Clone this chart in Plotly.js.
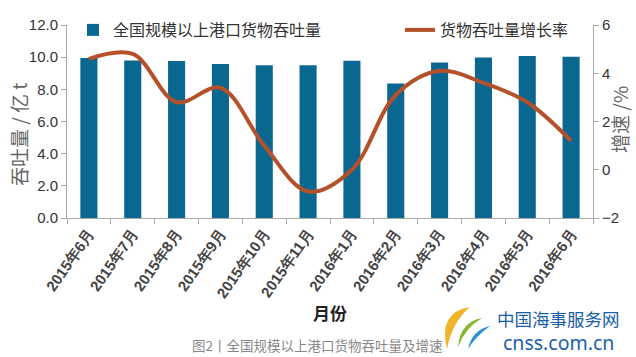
<!DOCTYPE html>
<html>
<head>
<meta charset="utf-8">
<script src="https://cdn.plot.ly/plotly-3.0.1.min.js"></script>
<style>html,body{margin:0;padding:0;background:#fff;}#chart{width:636px;height:357px;}</style>
</head>
<body>
<div id="chart"></div>
<script>
const months = ["2015年6月","2015年7月","2015年8月","2015年9月","2015年10月","2015年11月","2016年1月","2016年2月","2016年3月","2016年4月","2016年5月","2016年6月"];
const throughput = [9.95, 9.8, 9.76, 9.57, 9.5, 9.5, 9.77, 8.36, 9.67, 9.98, 10.07, 10.02];
const growth = [4.6, 4.8, 2.8, 3.4, 1.0, -0.9, 0.0, 3.1, 4.1, 3.6, 2.8, 1.2];
const barName = "全国规模以上港口货物吞吐量";
const lineName = "货物吞吐量增长率";

const W = 636, H = 357;
const M = {l: 67, r: 43, t: 25, b: 139};
const pw = W - M.l - M.r, ph = H - M.t - M.b;
function px(x){ return (x - M.l) / pw; }
function py(y){ return (H - M.b - y) / ph; }

const cjk = '"Noto Sans CJK SC", "Noto Sans", sans-serif';
const sans = '"Liberation Sans", Arial, sans-serif';

const traces = [
  {type:'bar', x: months, y: throughput, name: barName, marker:{color:'#0a6890'}, width:0.39, yaxis:'y', legend:'legend'},
  {type:'scatter', mode:'lines', x: months, y: growth, name: lineName, line:{color:'#b5512a', width:4, shape:'spline', smoothing:1}, yaxis:'y2', legend:'legend2'}
];

function logoPath(a){
  return 'M'+px(a[0][0])+','+py(a[0][1])+' Q'+px(a[1][0])+','+py(a[1][1])+' '+px(a[2][0])+','+py(a[2][1])+' Q'+px(a[3][0])+','+py(a[3][1])+' '+px(a[0][0])+','+py(a[0][1])+' Z';
}
function note(text, x, y, font, angle){
  return {text:text, xref:'paper', yref:'paper', x:px(x), y:py(y), xanchor:'center', yanchor:'middle',
    textangle:angle||0, showarrow:false, font:font};
}

const layout = {
  width: W, height: H,
  margin: M,
  paper_bgcolor:'#fff', plot_bgcolor:'#fff',
  showlegend: true,
  xaxis: {
    type:'category', tickson:'boundaries', ticks:'outside', ticklen:5, tickcolor:'#aaa',
    showline:true, linecolor:'#aaa', linewidth:1, showgrid:false,
    tickangle:-55, tickfont:{family:sans, size:15, color:'#444', weight:'bold'},
    title:{text:'月份', font:{family:cjk, size:17, color:'#222', weight:'bold'}, standoff:0}
  },
  yaxis: {
    range:[0,12], dtick:2, tickformat:'.1f', ticks:'outside', ticklen:5, tickcolor:'#aaa',
    showline:true, linecolor:'#aaa', showgrid:false, zeroline:false,
    tickfont:{family:sans, size:15, color:'#333'}
  },
  yaxis2: {
    range:[-2,6], dtick:2, overlaying:'y', side:'right', ticks:'outside', ticklen:5, tickcolor:'#aaa',
    showline:true, linecolor:'#aaa', showgrid:false, zeroline:false,
    tickfont:{family:sans, size:15, color:'#333'}
  },
  legend: {x:px(73), y:py(13), xanchor:'left', yanchor:'top', bgcolor:'rgba(0,0,0,0)',
    font:{family:cjk, size:16, color:'#333'}},
  legend2: {x:px(400), y:py(13), xanchor:'left', yanchor:'top', bgcolor:'rgba(0,0,0,0)',
    font:{family:cjk, size:16, color:'#333'}},
  annotations: [
    note('吞吐量 / 亿 t', 18, 135, {family:cjk, size:19, color:'#666'}, -90),
    note('增速 /%', 619, 120, {family:cjk, size:19, color:'#666'}, -90),
    note('图2丨全国规模以上港口货物吞吐量及增速', 317, 345, {family:cjk, size:13.5, color:'#888'}),
    note('中国海事服务网', 558, 318, {family:cjk, size:17.5, color:'#1b5ea8'}),
    note('cnss.com.cn', 558, 342, {family:'"Noto Sans", sans-serif', size:19.5, color:'#1b5ea8'})
  ],
  shapes: [
    {type:'path', xref:'paper', yref:'paper', path: logoPath([[470,307],[438,312],[447,349],[452,322]]), fillcolor:'#f2b42a', line:{width:0}},
    {type:'path', xref:'paper', yref:'paper', path: logoPath([[482,318],[460,322],[458,347],[465,328]]), fillcolor:'#8ab52f', line:{width:0}},
    {type:'path', xref:'paper', yref:'paper', path: logoPath([[490,326],[472,330],[468,349],[476,336]]), fillcolor:'#2a8fd0', line:{width:0}}
  ]
};

Plotly.newPlot('chart', traces, layout, {displayModeBar:false, staticPlot:true});
</script>
</body>
</html>
